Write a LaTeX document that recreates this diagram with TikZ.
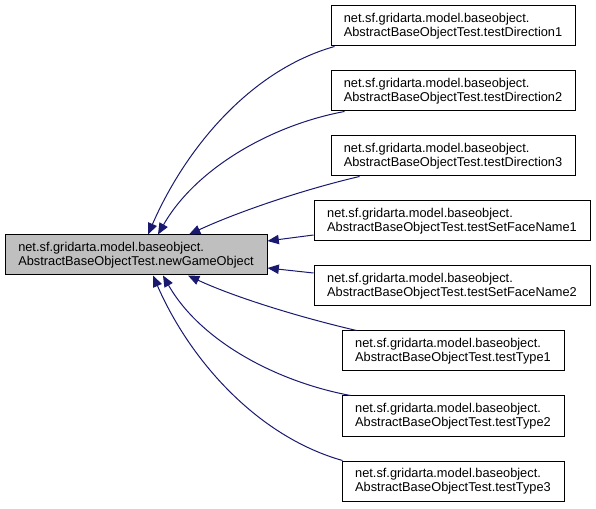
\documentclass[tikz,border=0pt]{standalone}
\usepackage{fontspec}
\setmainfont{Liberation Sans}
\usetikzlibrary{arrows.meta,calc}
\definecolor{EdgeBlue}{HTML}{191970}
\definecolor{CurGray}{HTML}{BFBFBF}

\begin{document}
\begin{tikzpicture}[x=0.75pt,y=-0.75pt,>={Triangle[length=8.5pt,width=7pt]},
    fnbox/.style={draw=black,line width=0.75pt,fill=white,align=left,inner sep=0pt,
      minimum height=30pt,font=\fontsize{9.6}{10.6}\selectfont},
    curbox/.style={fnbox,fill=CurGray},
    call/.style={->,EdgeBlue,line width=0.75pt}]
  \useasboundingbox (0,0) rectangle (596,509);
  % the function itself
  \node[curbox,minimum width=196.5pt] (ngo) at (136,255)
    {net.sf.gridarta.model.baseobject.\\AbstractBaseObjectTest.newGameObject};
  % its callers
  \node[fnbox,minimum width=183pt] (td1) at (453,26)
    {net.sf.gridarta.model.baseobject.\\AbstractBaseObjectTest.testDirection1};
  \node[fnbox,minimum width=183pt] (td2) at (453,91)
    {net.sf.gridarta.model.baseobject.\\AbstractBaseObjectTest.testDirection2};
  \node[fnbox,minimum width=183pt] (td3) at (453,156)
    {net.sf.gridarta.model.baseobject.\\AbstractBaseObjectTest.testDirection3};
  \node[fnbox,minimum width=207pt] (tsf1) at (452,221)
    {net.sf.gridarta.model.baseobject.\\AbstractBaseObjectTest.testSetFaceName1};
  \node[fnbox,minimum width=207pt] (tsf2) at (452,286)
    {net.sf.gridarta.model.baseobject.\\AbstractBaseObjectTest.testSetFaceName2};
  \node[fnbox,minimum width=166.5pt] (tt1) at (453,351)
    {net.sf.gridarta.model.baseobject.\\AbstractBaseObjectTest.testType1};
  \node[fnbox,minimum width=166.5pt] (tt2) at (453,416)
    {net.sf.gridarta.model.baseobject.\\AbstractBaseObjectTest.testType2};
  \node[fnbox,minimum width=166.5pt] (tt3) at (453,481)
    {net.sf.gridarta.model.baseobject.\\AbstractBaseObjectTest.testType3};

  % calls
  \draw[call] ($(td1.south west)+(4,0)$) .. controls +(-85,24) and +(37,-85) .. ($(ngo.north)+(12,0)$);
  \draw[call] ($(td2.south west)+(14,0)$) .. controls +(-75,14) and +(37,-65) .. ($(ngo.north)+(22,0)$);
  \draw[call] ($(td3.south west)+(29,0)$) .. controls +(-60,14) and +(45,-21) .. ($(ngo.north)+(53,0)$);
  \draw[call] ($(tsf1.west)+(0,14)$) -- ($(ngo.east)+(0,-14)$);
  \draw[call] ($(tsf2.west)+(0,-13)$) -- ($(ngo.east)+(0,13)$);
  \draw[call] ($(tt1.north west)+(15,0)$) .. controls +(-60,-14) and +(45,21) .. ($(ngo.south)+(52,0)$);
  \draw[call] ($(tt2.north west)+(9,0)$) .. controls +(-75,-14) and +(37,65) .. ($(ngo.south)+(27,0)$);
  \draw[call] ($(tt3.north west)+(1,0)$) .. controls +(-85,-24) and +(37,85) .. ($(ngo.south)+(17,0)$);
\end{tikzpicture}
\end{document}
